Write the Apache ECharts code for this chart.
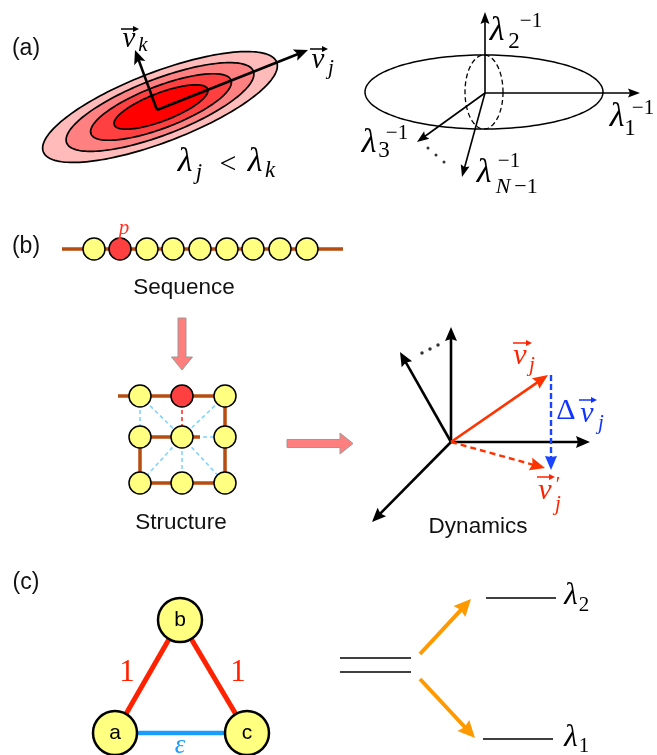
<!DOCTYPE html>
<html>
<head>
<meta charset="utf-8">
<script src="https://cdn.jsdelivr.net/npm/echarts@6/dist/echarts.min.js"></script>
<style>
  html, body { margin: 0; padding: 0; background: #fff; }
  #chart { width: 657px; height: 755px; }
</style>
</head>
<body>
<div id="chart"></div>
<script>
// Canvas-sized value axes: one unit per pixel, y growing downwards.
const xExtent = [0, 657];
const yExtent = [0, 755];

// (a) left: nested contours of the basin [cx, cy, semi-major, semi-minor]
const basinContours = [[160, 107, 125, 35], [160, 107, 100, 28], [161, 107, 75, 21], [161, 107, 50, 14]];
const basinTiltDeg = 21;
const basinShades = ['#ffbaba', '#ff8080', '#ff4040', '#ff0000'];
// eigenvectors v_j, v_k  [x0, y0, x1, y1]
const basinVectors = [[157, 110, 308, 50], [157, 110, 135, 50]];

// (a) right: ellipsoid with axes of length 1/lambda
const ellipsoidOutline = [[484, 92, 119, 37]];
const ellipsoidSection = [[484, 92, 19, 37]];
const ellipsoidAxes = [[485, 93, 485, 12], [485, 93, 640, 93], [485, 93, 417, 142], [485, 93, 462, 177]];
const ellipsoidDots = [[428, 148], [436, 155], [444, 162]];

// (b) sequence: backbone and residues (index 1 is residue p)
const backbone = [[62, 249, 343, 249]];
const residueX = [94, 120, 147, 173, 200, 227, 253, 280, 307];
const residueY = 249;
const mutatedResidue = 1;

// (b) structure: 3x3 contact lattice
const latticeX = [140, 182, 225];
const latticeY = [396, 437, 483];
const chainBonds = [[118, 396, 225, 396], [225, 396, 225, 483], [140, 437, 200, 437], [140, 437, 140, 483], [140, 483, 225, 483]];
const contacts = [[140, 396, 140, 437], [140, 396, 182, 437], [225, 396, 182, 437], [182, 437, 140, 483],
                  [182, 437, 225, 483], [182, 437, 182, 483], [182, 437, 225, 437]];
const mutatedContact = [[182, 396, 182, 437]];
const lattice_p = [1, 0]; // column, row of residue p

// (b) flow arrows: sequence -> structure -> dynamics
const flowArrows = [[182, 318, 182, 370], [287, 443.5, 353, 443.5]];

// (b) dynamics: normal-mode axes and the perturbed mode
const modeAxes = [[451, 442, 451, 327], [451, 442, 400, 352], [451, 442, 590, 442], [451, 442, 372, 522]];
const modeDots = [[422, 353], [430, 349], [438, 345]];
const modeBefore = [[451, 442, 548, 375]];
const modeAfter = [[451, 442, 545, 468]];
const modeShift = [[551, 375, 551, 470]];

// (c) three-node network with weak bond epsilon
const netNodes = [['a', 115, 733], ['b', 180, 620], ['c', 247, 733]];
const strongBonds = [[180, 620, 115, 733], [180, 620, 247, 733]];
const weakBonds = [[115, 733, 247, 733]];

// (c) degenerate level splitting into lambda_1 < lambda_2
const degenerateLevels = [[340, 658, 411, 658], [340, 672, 411, 672]];
const splitLevels = [[486, 598, 556, 598], [483, 739, 553, 739]];
const splitArrows = [[420, 654, 471, 599], [420, 679, 475, 738]];

// Sans captions
const captionText = ['(a)', '(b)', '(c)', 'Sequence', 'Structure', 'Dynamics'];
const captionAt = [[26, 49], [26, 247], [26, 583], [184, 288], [181, 523], [478, 527]];
const captionSize = [23, 23, 23, 22.5, 22.5, 22.5];

// Math glyphs: text, x, y, size, italic?, colour
const mathGlyphs = [
  ['v', 129, 39, 29, 1, '#000'], ['k', 143, 45, 21, 1, '#000'],
  ['v', 318, 60, 29, 1, '#000'], ['j', 331, 68, 21, 1, '#000'],
  ['λ', 185, 162, 34, 1, '#000'], ['j', 199, 173, 23, 1, '#000'], ['<', 228, 165, 30, 0, '#000'],
  ['λ', 255, 162, 34, 1, '#000'], ['k', 270, 171, 23, 1, '#000'],
  ['λ', 497, 31, 34, 1, '#000'], ['2', 514, 42, 23, 0, '#000'], ['−1', 531, 21, 21, 0, '#000'],
  ['λ', 617, 117, 34, 1, '#000'], ['1', 630, 129, 23, 0, '#000'], ['−1', 643, 108, 21, 0, '#000'],
  ['λ', 369, 143, 34, 1, '#000'], ['3', 384, 151, 23, 0, '#000'], ['−1', 397, 133, 21, 0, '#000'],
  ['λ', 484, 173, 34, 1, '#000'], ['N', 503, 187, 22, 1, '#000'], ['−1', 526, 187, 22, 0, '#000'], ['−1', 509, 161, 21, 0, '#000'],
  ['p', 124, 228, 21, 1, '#ff3322'],
  ['v', 520, 356, 30, 1, '#ff2200'], ['j', 532, 365, 21, 1, '#ff2200'],
  ['Δ', 566, 411, 30, 0, '#1133ff'], ['v', 587, 414, 30, 1, '#1133ff'], ['j', 601, 423, 21, 1, '#1133ff'],
  ['v', 545, 491, 30, 1, '#ff2200'], ['′', 558, 485, 21, 0, '#ff2200'], ['j', 558, 504, 21, 1, '#ff2200'],
  ['1', 127, 673, 31, 0, '#ff2200'], ['1', 238, 673, 31, 0, '#ff2200'], ['ε', 180, 746, 27, 1, '#1a9bff'],
  ['λ', 571, 596, 31, 1, '#000'], ['2', 584, 605, 21, 0, '#000'],
  ['λ', 571, 738, 31, 1, '#000'], ['1', 584, 746, 21, 0, '#000']
];
// Vector accents over v: x0, y, x1
const vectorAccents = [[121, 29, 139], [310, 49, 328], [513, 343, 532], [579, 400, 597], [537, 477, 555]];
const accentColours = ['#000', '#000', '#ff2200', '#1133ff', '#ff2200'];

const MATH_FONT = '"Liberation Serif", "DejaVu Serif", serif';
const SANS_FONT = '"Liberation Sans", Arial, Helvetica, sans-serif';

function ellipseRenderer(tiltDeg, styleFor) {
  const t = tiltDeg * Math.PI / 180;
  return function (params, api) {
    const cx = api.value(0), cy = api.value(1), rx = api.value(2), ry = api.value(3);
    const pts = [];
    for (let i = 0; i < 160; i++) {
      const a = 2 * Math.PI * i / 160;
      const ex = rx * Math.cos(a), ey = ry * Math.sin(a);
      pts.push(api.coord([cx + ex * Math.cos(t) + ey * Math.sin(t), cy - ex * Math.sin(t) + ey * Math.cos(t)]));
    }
    return { type: 'polygon', shape: { points: pts }, style: styleFor(params.dataIndex) };
  };
}

function arrowRenderer(o) {
  return function (params, api) {
    const a = api.coord([api.value(0), api.value(1)]);
    const b = api.coord([api.value(2), api.value(3)]);
    const dx = b[0] - a[0], dy = b[1] - a[1], L = Math.hypot(dx, dy);
    const ux = dx / L, uy = dy / L, nx = -uy, ny = ux;
    const hl = o.head[0], hw = o.head[1], notch = o.head[2] || 0;
    const colour = typeof o.color === 'function' ? o.color(params.dataIndex) : o.color;
    const bx = b[0] - ux * hl, by = b[1] - uy * hl;
    const inner = [b[0] - ux * (hl - notch), b[1] - uy * (hl - notch)];
    const shaftEnd = [b[0] - ux * (hl - notch - 1), b[1] - uy * (hl - notch - 1)];
    return {
      type: 'group',
      children: [
        { type: 'line', shape: { x1: a[0], y1: a[1], x2: shaftEnd[0], y2: shaftEnd[1] },
          style: { stroke: colour, lineWidth: o.width, lineDash: o.dash || null, lineCap: 'butt' } },
        { type: 'polygon', shape: { points: [b, [bx + nx * hw, by + ny * hw], inner, [bx - nx * hw, by - ny * hw]] },
          style: { fill: colour } }
      ]
    };
  };
}

function segmentRenderer(o) {
  return function (params, api) {
    const a = api.coord([api.value(0), api.value(1)]);
    const b = api.coord([api.value(2), api.value(3)]);
    return { type: 'line', shape: { x1: a[0], y1: a[1], x2: b[0], y2: b[1] },
      style: { stroke: o.color, lineWidth: o.width, lineDash: o.dash || null, lineCap: o.cap || 'butt' } };
  };
}

function blockArrowRenderer(params, api) {
  const a = api.coord([api.value(0), api.value(1)]);
  const b = api.coord([api.value(2), api.value(3)]);
  const dx = b[0] - a[0], dy = b[1] - a[1], L = Math.hypot(dx, dy);
  const ux = dx / L, uy = dy / L, nx = -uy, ny = ux;
  const sw = 4, hw = 10.5, hl = 13;
  const p = (s, n) => [a[0] + ux * s + nx * n, a[1] + uy * s + ny * n];
  return { type: 'polygon',
    shape: { points: [p(0, -sw), p(L - hl, -sw), p(L - hl, -hw), p(L, 0), p(L - hl, hw), p(L - hl, sw), p(0, sw)] },
    style: { fill: '#ff7f7f', stroke: '#9a9a9a', lineWidth: 1 } };
}

const seg = (name, data, o, z) => ({ name, type: 'custom', data, encode: { x: 0, y: 1 }, renderItem: segmentRenderer(o), z: z || 2, silent: true, clip: false });
const arr = (name, data, o, z) => ({ name, type: 'custom', data, encode: { x: 0, y: 1 }, renderItem: arrowRenderer(o), z: z || 3, silent: true, clip: false });

const residueData = residueX.map((x, i) => ({
  value: [x, residueY],
  itemStyle: { color: i === mutatedResidue ? '#ff4040' : '#ffff80' }
}));
const latticeData = [];
latticeY.forEach((y, r) => latticeX.forEach((x, c) => {
  latticeData.push({ value: [x, y], itemStyle: { color: (c === lattice_p[0] && r === lattice_p[1]) ? '#ff4040' : '#ffff80' } });
}));

const chart = echarts.init(document.getElementById('chart'), null, { renderer: 'canvas' });
chart.setOption({
  animation: false,
  backgroundColor: '#ffffff',
  grid: { left: 0, right: 0, top: 0, bottom: 0 },
  xAxis: { type: 'value', min: xExtent[0], max: xExtent[1], show: false },
  yAxis: { type: 'value', min: yExtent[0], max: yExtent[1], inverse: true, show: false },
  series: [
    // (a) basin
    { name: 'basin', type: 'custom', data: basinContours, encode: { x: 0, y: 1 }, z: 1, silent: true, clip: false,
      renderItem: ellipseRenderer(basinTiltDeg, i => ({ fill: basinShades[i], stroke: '#000', lineWidth: 1.7 })) },
    arr('eigenvectors', basinVectors, { color: '#000', width: 2.6, head: [14, 6, 3] }, 3),
    // (a) ellipsoid
    { name: 'ellipsoid', type: 'custom', data: ellipsoidOutline, encode: { x: 0, y: 1 }, z: 1, silent: true, clip: false,
      renderItem: ellipseRenderer(0, () => ({ fill: null, stroke: '#000', lineWidth: 1.5 })) },
    { name: 'section', type: 'custom', data: ellipsoidSection, encode: { x: 0, y: 1 }, z: 1, silent: true, clip: false,
      renderItem: ellipseRenderer(0, () => ({ fill: null, stroke: '#000', lineWidth: 1.3, lineDash: [5, 3] })) },
    arr('inverse eigenvalue axes', ellipsoidAxes, { color: '#000', width: 1.6, head: [12, 4.5, 2] }, 3),
    { name: 'more axes', type: 'scatter', data: ellipsoidDots, symbolSize: 3, itemStyle: { color: '#000' }, silent: true, z: 3 },

    // (b) sequence
    seg('backbone', backbone, { color: '#b64c10', width: 3.5 }, 2),
    { name: 'residues', type: 'scatter', data: residueData, symbolSize: 22, z: 4, silent: true,
      itemStyle: { borderColor: '#000', borderWidth: 1.5, opacity: 1 } },
    // (b) structure
    seg('contacts', contacts, { color: '#80d4ff', width: 1.6, dash: [4, 3] }, 2),
    seg('perturbed contact', mutatedContact, { color: '#ff3322', width: 1.6, dash: [4, 3] }, 2),
    seg('chain', chainBonds, { color: '#b64c10', width: 3.5 }, 2),
    { name: 'lattice', type: 'scatter', data: latticeData, symbolSize: 22, z: 4, silent: true,
      itemStyle: { borderColor: '#000', borderWidth: 1.5, opacity: 1 } },
    { name: 'flow', type: 'custom', data: flowArrows, encode: { x: 0, y: 1 }, renderItem: blockArrowRenderer, z: 2, silent: true, clip: false },
    // (b) dynamics
    arr('modes', modeAxes, { color: '#000', width: 2.6, head: [14, 6, 2] }, 3),
    { name: 'more modes', type: 'scatter', data: modeDots, symbolSize: 3.5, itemStyle: { color: '#000' }, silent: true, z: 3 },
    arr('mode j', modeBefore, { color: '#ff3300', width: 2.6, head: [15, 6.5, 2] }, 3),
    arr('mode j perturbed', modeAfter, { color: '#ff3300', width: 2.4, dash: [6, 4], head: [15, 6.5, 2] }, 3),
    arr('mode shift', modeShift, { color: '#1a44ff', width: 2.4, dash: [6, 3], head: [14, 6, 1] }, 3),

    // (c) network
    seg('strong bonds', strongBonds, { color: '#ff2200', width: 5 }, 2),
    seg('weak bond', weakBonds, { color: '#1a9bff', width: 4.5 }, 2),
    { name: 'nodes', type: 'scatter', data: netNodes.map(n => ({ name: n[0], value: [n[1], n[2]] })),
      symbolSize: 44, z: 4, silent: true,
      itemStyle: { color: '#ffff80', borderColor: '#000', borderWidth: 2.5, opacity: 1 },
      label: { show: true, position: 'inside', formatter: p => p.name, color: '#000', fontSize: 21, fontFamily: SANS_FONT } },
    // (c) levels
    seg('degenerate', degenerateLevels, { color: '#000', width: 1.6 }, 2),
    seg('split', splitLevels, { color: '#000', width: 1.6 }, 2),
    arr('splitting', splitArrows, { color: '#ff9900', width: 4, head: [17, 8, 2] }, 3),

    // captions and math
    { name: 'captions', type: 'custom', data: captionAt, encode: { x: 0, y: 1 }, z: 6, silent: true, clip: false,
      renderItem: (params, api) => {
        const p = api.coord([api.value(0), api.value(1)]);
        const i = params.dataIndex;
        return { type: 'text', x: p[0], y: p[1],
          style: { text: captionText[i], fill: '#111', align: 'center', verticalAlign: 'middle',
                   font: captionSize[i] + 'px ' + SANS_FONT } };
      } },
    { name: 'math', type: 'custom', data: mathGlyphs.map(g => [g[1], g[2]]), encode: { x: 0, y: 1 }, z: 6, silent: true, clip: false,
      renderItem: (params, api) => {
        const g = mathGlyphs[params.dataIndex];
        const p = api.coord([api.value(0), api.value(1)]);
        return { type: 'text', x: p[0], y: p[1],
          style: { text: g[0], fill: g[5], align: 'center', verticalAlign: 'middle',
                   font: (g[4] ? 'italic ' : '') + g[3] + 'px ' + MATH_FONT } };
      } },
    { name: 'accents', type: 'custom', data: vectorAccents.map(v => [v[0], v[1], v[2], v[1]]), encode: { x: 0, y: 1 },
      renderItem: arrowRenderer({ color: i => accentColours[i], width: 1.5, head: [6, 3, 0] }), z: 6, silent: true, clip: false }
  ]
});
</script>
</body>
</html>
